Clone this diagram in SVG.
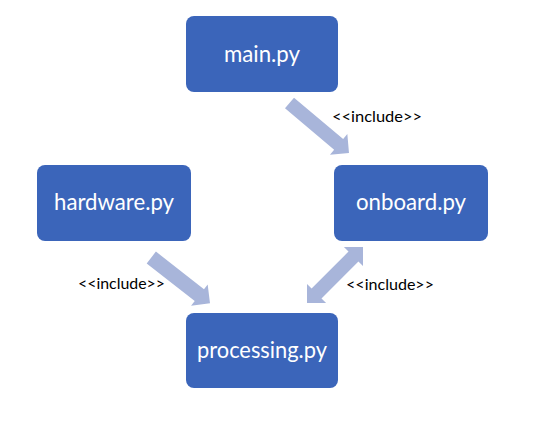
<svg xmlns="http://www.w3.org/2000/svg" width="538" height="429" viewBox="0 0 538 429">
<style>
.box{fill:#3B65BA;}
.lbl{fill:#FFFFFF;font-family:Lato,"Open Sans","Liberation Sans",sans-serif;font-size:24px;text-anchor:middle;}
.arr{fill:#A8B5DA;}
.inc{fill:#000000;font-family:Lato,"Open Sans","Liberation Sans",sans-serif;font-size:15px;}
</style>
<rect width="538" height="429" fill="#FFFFFF"/>
<g id="connectors">
<polygon class="arr" transform="translate(289.5,103) rotate(40.04)" points="0,-7 64.2,-7 64.2,-13.5 77.7,0 64.2,13.5 64.2,7 0,7"/>
<polygon class="arr" transform="translate(151.3,257.5) rotate(38)" points="0,-7.5 61,-7.5 61,-13.5 74.5,0 61,13.5 61,7.5 0,7.5"/>
<polygon class="arr" transform="translate(307,303) rotate(-45)" points="0,0 13.5,-13.5 13.5,-7 65.7,-7 65.7,-13.5 79.2,0 65.7,13.5 65.7,7 13.5,7 13.5,13.5"/>
<text class="inc" x="332" y="122" textLength="90" lengthAdjust="spacingAndGlyphs">&lt;&lt;include&gt;&gt;</text>
<text class="inc" x="78" y="288.5" textLength="87" lengthAdjust="spacingAndGlyphs">&lt;&lt;include&gt;&gt;</text>
<text class="inc" x="346" y="290" textLength="88" lengthAdjust="spacingAndGlyphs">&lt;&lt;include&gt;&gt;</text>
</g>
<g id="main">
<rect class="box" x="186" y="16" width="152" height="76" rx="8"/>
<text class="lbl" x="262" y="61.5" textLength="76" lengthAdjust="spacingAndGlyphs">main.py</text>
</g>
<g id="hardware">
<rect class="box" x="37" y="165" width="154" height="76" rx="8"/>
<text class="lbl" x="114" y="209.5" textLength="120" lengthAdjust="spacingAndGlyphs">hardware.py</text>
</g>
<g id="onboard">
<rect class="box" x="334" y="165" width="154" height="76" rx="8"/>
<text class="lbl" x="411" y="209.5" textLength="110" lengthAdjust="spacingAndGlyphs">onboard.py</text>
</g>
<g id="processing">
<rect class="box" x="186" y="313" width="152" height="75" rx="8"/>
<text class="lbl" x="262" y="357.5" textLength="130" lengthAdjust="spacingAndGlyphs">processing.py</text>
</g>
</svg>
